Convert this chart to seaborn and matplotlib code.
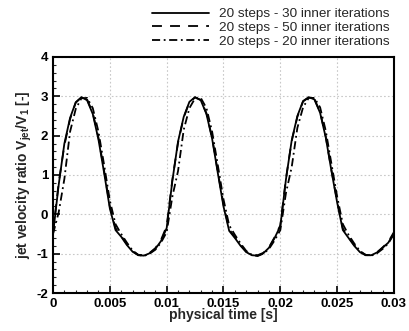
import numpy as np
import pandas as pd
import matplotlib
matplotlib.use("Agg")
import matplotlib.pyplot as plt
from matplotlib.ticker import MultipleLocator
import seaborn as sns

# ---- data (20 time steps per period) ----
time_s = [round(0.0005 * i, 4) for i in range(61)]

v_30_inner = [
    -0.50, 0.75, 1.80, 2.45, 2.85, 2.98, 2.90, 2.55, 1.90, 1.05,
    0.15, -0.40, -0.57, -0.78, -0.95, -1.04, -1.05, -0.99, -0.88, -0.68,
    -0.35, 0.85, 1.85, 2.48, 2.86, 2.98, 2.90, 2.55, 1.92, 1.05,
    0.20, -0.42, -0.60, -0.80, -0.96, -1.04, -1.05, -0.99, -0.85, -0.60,
    -0.30, 0.90, 1.88, 2.50, 2.88, 2.98, 2.92, 2.58, 1.95, 1.10,
    0.30, -0.40, -0.60, -0.80, -0.96, -1.04, -1.04, -0.97, -0.85, -0.72,
    -0.48,
]
v_50_inner = [
    -0.45, 0.80, 1.75, 2.42, 2.84, 2.97, 2.92, 2.58, 1.95, 1.10,
    0.20, -0.35, -0.55, -0.76, -0.94, -1.03, -1.04, -0.98, -0.86, -0.65,
    -0.30, 0.88, 1.82, 2.46, 2.85, 2.97, 2.91, 2.57, 1.95, 1.08,
    0.25, -0.38, -0.58, -0.78, -0.95, -1.03, -1.04, -0.98, -0.84, -0.58,
    -0.28, 0.92, 1.86, 2.48, 2.87, 2.97, 2.93, 2.60, 1.97, 1.12,
    0.33, -0.36, -0.58, -0.78, -0.95, -1.03, -1.04, -0.97, -0.84, -0.70,
    -0.45,
]
v_20_inner = [
    -0.50, 0.05, 0.90, 2.10, 2.68, 2.95, 2.96, 2.70, 2.10, 1.25,
    0.35, -0.25, -0.50, -0.72, -0.92, -1.03, -1.06, -1.00, -0.90, -0.72,
    -0.45, 0.45, 1.10, 2.15, 2.70, 2.95, 2.96, 2.70, 2.10, 1.25,
    0.38, -0.28, -0.52, -0.74, -0.93, -1.03, -1.06, -1.00, -0.88, -0.66,
    -0.40, 0.55, 1.20, 2.20, 2.72, 2.96, 2.96, 2.72, 2.12, 1.28,
    0.45, -0.25, -0.52, -0.74, -0.93, -1.03, -1.05, -0.99, -0.88, -0.74,
    -0.50,
]
series_labels = [
    "20 steps - 30 inner iterations",
    "20 steps - 50 inner iterations",
    "20 steps - 20 inner iterations",
]
x_ticks = [0, 0.005, 0.01, 0.015, 0.02, 0.025, 0.03]
x_tick_labels = ["0", "0.005", "0.01", "0.015", "0.02", "0.025", "0.03"]
y_ticks = [-2, -1, 0, 1, 2, 3, 4]

sns.set_style("white")
plt.rcParams["font.family"] = ["Liberation Sans", "DejaVu Sans"]
plt.rcParams["axes.unicode_minus"] = False
plt.rcParams["mathtext.fontset"] = "custom"
plt.rcParams["mathtext.rm"] = "Liberation Sans:bold"
plt.rcParams["mathtext.bf"] = "Liberation Sans:bold"
plt.rcParams["mathtext.it"] = "Liberation Sans:bold"

fig = plt.figure(figsize=(4.09, 3.31), dpi=100)
ax = fig.add_axes([0.1296, 0.1148, 0.8337, 0.7130])

styles = ["-", (0, (5.5, 4.5)), (0, (4.5, 2, 1, 2))]
values = [v_30_inner, v_50_inner, v_20_inner]
for vals, lab, ls in zip(values, series_labels, styles):
    df = pd.DataFrame({"t": time_s, "v": vals})
    sns.lineplot(data=df, x="t", y="v", ax=ax, color="black", lw=1.3,
                 linestyle=ls, label=lab, legend=False)

ax.set_xlim(0, 0.03)
ax.set_ylim(-2, 4)
ax.set_xticks(x_ticks)
ax.set_xticklabels(x_tick_labels)
ax.set_yticks(y_ticks)
ax.set_yticklabels([str(v) for v in y_ticks])
ax.xaxis.set_minor_locator(MultipleLocator(0.001))
ax.yaxis.set_minor_locator(MultipleLocator(0.2))

ax.grid(True, which="major", color="#c8c8c8", linestyle=(0, (1.5, 2)), lw=0.8)
for sp in ax.spines.values():
    sp.set_visible(True)
    sp.set_color("black")
    sp.set_linewidth(1.5)

ax.tick_params(axis="both", which="major", direction="in", length=5, width=1.2,
               labelsize=9.5, pad=3.5, colors="black", bottom=True, left=True,
               top=False, right=False)
ax.tick_params(axis="both", which="minor", direction="in", length=2.5, width=0.8,
               bottom=True, left=True, top=False, right=False)
for lbl in ax.get_xticklabels() + ax.get_yticklabels():
    lbl.set_fontweight("bold")

ax.set_xlabel("physical time [s]", fontsize=10, fontweight="bold", labelpad=-1)
ax.set_ylabel(r"jet velocity ratio V$_{\mathbf{jet}}$/V$_{\mathbf{1}}$ [-]",
              fontsize=10, fontweight="bold", labelpad=2)

handles, labels = ax.get_legend_handles_labels()
fig.legend(handles, labels, loc="upper left", bbox_to_anchor=(0.372, 0.976),
           frameon=False, fontsize=9.7, handlelength=4.2, handletextpad=0.75,
           labelspacing=0.1, borderpad=0, borderaxespad=0)

fig.savefig("out.png", dpi=100)
